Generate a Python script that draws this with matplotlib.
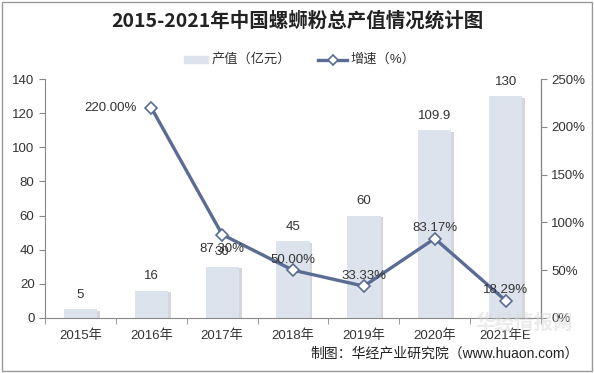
import matplotlib.pyplot as plt
from matplotlib.patches import Rectangle
import matplotlib.patheffects as pe

plt.rcParams['font.family'] = ['Liberation Sans', 'Noto Sans CJK SC']

years = ['2015年', '2016年', '2017年', '2018年', '2019年', '2020年', '2021年E']
output = [5, 16, 30, 45, 60, 109.9, 130]
growth = [None, 220.00, 87.30, 50.00, 33.33, 83.17, 18.29]
growth_labels = ['', '220.00%', '87.30%', '50.00%', '33.33%', '83.17%', '18.29%']

bar_color = '#dde3ec'
line_color = '#5a6c94'
axis_color = '#888888'
text_color = '#333333'

fig = plt.figure(figsize=(5.94, 3.73), dpi=100)
ax = fig.add_axes([0.0758, 0.1475, 0.835, 0.6405])
ax2 = ax.twinx()

x = list(range(len(years)))
bars = ax.bar(x, output, width=0.47, color=bar_color, zorder=2,
              path_effects=[pe.SimplePatchShadow(offset=(2, -1), shadow_rgbFace='#b8bcc4', alpha=0.6), pe.Normal()])
for xi, v in zip(x, output):
    ax.text(xi, v + 5, f'{v:g}', ha='center', va='bottom', fontsize=9.5, color=text_color)

ax.set_xlim(-0.5, len(years) - 0.5)
ax.set_ylim(0, 140)
ax.set_yticks(range(0, 141, 20))
ax.set_xticks(x)
ax.set_xticklabels(years, fontsize=9.5, color=text_color)
ax.set_xticks([i + 0.5 for i in range(-1, len(years))], minor=True)
ax.tick_params(axis='x', which='major', length=0, pad=8)
ax.tick_params(axis='x', which='minor', length=4, color=axis_color)
ax.tick_params(axis='y', labelsize=9.5, labelcolor=text_color, length=4, color=axis_color)
ax.spines['top'].set_visible(False)
ax2.spines['top'].set_visible(False)
for s in ['left', 'bottom']:
    ax.spines[s].set_color(axis_color)
ax2.spines['right'].set_color(axis_color)
ax2.spines['left'].set_visible(False)
ax2.spines['bottom'].set_visible(False)

gx = [xi for xi, g in zip(x, growth) if g is not None]
gy = [g for g in growth if g is not None]
ax2.plot(gx, gy, color=line_color, lw=2.4, marker='D', ms=6, mfc='white',
         mec=line_color, mew=1.2, zorder=5)
ax2.set_ylim(0, 250)
ax2.set_yticks(range(0, 251, 50))
ax2.set_yticklabels([f'{t}%' for t in range(0, 251, 50)])
ax2.tick_params(axis='y', labelsize=9.5, labelcolor=text_color, length=4, color=axis_color)

offsets = {1: (-0.58, 0), 2: (0.0, -15), 3: (0.0, 11),
           4: (0.0, 11), 5: (0.0, 11), 6: (0.0, 11)}
for i, (dx, dy) in offsets.items():
    ax2.text(x[i] + dx, growth[i] + dy, growth_labels[i], ha='center', va='center',
             fontsize=9.5, color=text_color, zorder=6)

fig.text(0.5, 0.945, '2015-2021年中国螺蛳粉总产值情况统计图', ha='center', va='center',
         fontsize=14, fontweight='bold', color='#222222', family=['Noto Sans CJK SC'])

# legend
fig.patches.append(Rectangle((0.31, 0.832), 0.04, 0.018, transform=fig.transFigure,
                             color=bar_color, figure=fig))
fig.text(0.357, 0.84, '产值（亿元）', ha='left', va='center', fontsize=9.5, color=text_color)
fig.lines.append(plt.Line2D([0.535, 0.585], [0.84, 0.84], transform=fig.transFigure,
                            color=line_color, lw=2.4, figure=fig))
fig.lines.append(plt.Line2D([0.56], [0.84], transform=fig.transFigure,
                            color=line_color, lw=0, marker='D', ms=5, mfc='white',
                            mew=1.2, figure=fig))
fig.text(0.59, 0.84, '增速（%）', ha='left', va='center', fontsize=9.5, color=text_color)

# watermark
fig.text(0.80, 0.135, '华经情报网', ha='left', va='center', fontsize=14, fontweight='bold',
         color='#d8d8d8', alpha=0.5, family=['Noto Sans CJK SC'])

fig.text(0.975, 0.053, '制图：华经产业研究院（www.huaon.com）', ha='right', va='center',
         fontsize=10, color='#222222')

fig.patches.append(Rectangle((0.003, 0.005), 0.994, 0.99, transform=fig.transFigure,
                             fill=False, edgecolor='#999999', lw=1, figure=fig))

fig.savefig('out.png', dpi=100)
